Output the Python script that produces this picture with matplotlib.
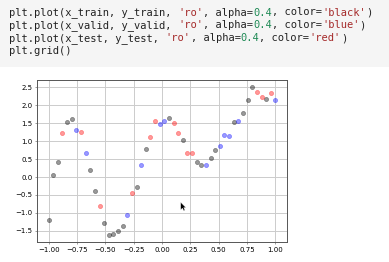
import matplotlib
matplotlib.use("Agg")
import matplotlib.pyplot as plt
from matplotlib.patches import Polygon, Rectangle
from matplotlib.ticker import MultipleLocator

# data
x_train = [-1.0, -0.959, -0.918, -0.837, -0.796, -0.633, -0.592, -0.510, -0.469,
           -0.429, -0.388, -0.347, -0.224, -0.143, 0.061, 0.184, 0.306, 0.347,
           0.429, 0.469, 0.633, 0.714, 0.755, 0.796, 0.918]
y_train = [-1.19, 0.05, 0.43, 1.52, 1.61, 0.20, -0.38, -1.28, -1.61,
           -1.58, -1.49, -1.36, -0.28, 0.79, 1.64, 1.03, 0.41, 0.32,
           0.54, 0.74, 1.52, 1.78, 2.13, 2.50, 2.18]

x_valid = [-0.755, -0.673, -0.306, -0.184, -0.020, 0.020, 0.388, 0.510,
           0.551, 0.592, 0.673, 1.0]
y_valid = [1.31, 0.67, -1.05, 0.33, 1.46, 1.56, 0.32, 0.87,
           1.18, 1.15, 1.55, 2.13]

x_test = [-0.878, -0.714, -0.551, -0.265, -0.102, -0.061, 0.102, 0.143,
          0.224, 0.265, 0.837, 0.878, 0.959]
y_test = [1.21, 1.24, -0.80, -0.44, 1.10, 1.56, 1.51, 1.21,
          0.68, 0.66, 2.36, 2.23, 2.33]

# the notebook cell above the plot, split into (text, colour) tokens
TXT = "#222222"
STR = "#a52a2a"
NUM = "#1f8a55"
code_lines = [
    [("plt.plot(x_train, y_train, ", TXT), ("'ro'", STR), (", alpha=", TXT),
     ("0.4", NUM), (", color=", TXT), ("'black'", STR), (")", TXT)],
    [("plt.plot(x_valid, y_valid, ", TXT), ("'ro'", STR), (", alpha=", TXT),
     ("0.4", NUM), (", color=", TXT), ("'blue'", STR), (")", TXT)],
    [("plt.plot(x_test, y_test, ", TXT), ("'ro'", STR), (", alpha=", TXT),
     ("0.4", NUM), (", color=", TXT), ("'red'", STR), (")", TXT)],
    [("plt.grid()", TXT)],
]

W, H, DPI = 389, 262, 50
fig = plt.figure(figsize=(W / DPI, H / DPI), dpi=DPI)
fig.patch.set_facecolor("white")

# grey code cell background
fig.patches.append(Rectangle((0, 1 - 67 / H), 1, 67 / H, transform=fig.transFigure,
                             facecolor="#f5f5f5", edgecolor="none", zorder=0))

char_w = 6.26  # px per monospace character
for row, tokens in enumerate(code_lines):
    ypix = 12.5 + row * 12.9
    col = 0
    for text, color in tokens:
        fig.text((9 + col * char_w) / W, 1 - ypix / H, text, color=color,
                 family="DejaVu Sans Mono", fontsize=15, va="center", ha="left")
        col += len(text)

ax = fig.add_axes([37.3 / W, 1 - 242.3 / H, (286.7 - 37.3) / W, (242.3 - 79.7) / H])
ax.plot(x_train, y_train, "o", alpha=0.4, color="black")
ax.plot(x_valid, y_valid, "o", alpha=0.4, color="blue")
ax.plot(x_test, y_test, "o", alpha=0.4, color="red")
ax.grid(color="#cccccc", linewidth=1.4)
ax.yaxis.set_major_locator(MultipleLocator(0.5))
ax.xaxis.set_major_locator(MultipleLocator(0.25))
for spine in ax.spines.values():
    spine.set_linewidth(1.4)
    spine.set_color("#555555")
ax.tick_params(labelsize=10, color="#555555")

# mouse pointer left in the screenshot
cx, cy = 180.7, 202.3
pts = [(0, 0), (0, 7.5), (1.8, 5.8), (3.0, 8.4), (4.2, 7.9), (3.0, 5.3), (5.2, 5.3)]
fig.patches.append(Polygon([((cx + dx) / W, 1 - (cy + dy) / H) for dx, dy in pts],
                           closed=True, transform=fig.transFigure,
                           facecolor="black", edgecolor="white", linewidth=0.4,
                           zorder=10))

fig.savefig("out.png", dpi=DPI)
